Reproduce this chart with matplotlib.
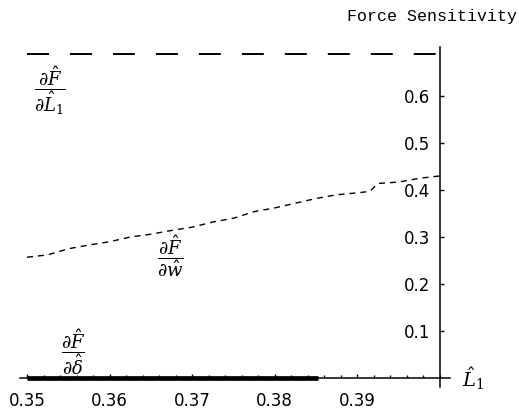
import matplotlib
matplotlib.use("Agg")
import matplotlib.pyplot as plt
from matplotlib.ticker import MultipleLocator

plt.rcParams['mathtext.fontset'] = 'dejavuserif'

# sensitivity of F with respect to L1 (constant)
L1_x = [0.35, 0.40]
L1_y = [0.689, 0.689]

# sensitivity with respect to w
w_x = [0.35, 0.3525, 0.355, 0.3575, 0.36, 0.3625, 0.365, 0.3675, 0.37, 0.3725,
       0.375, 0.3775, 0.38, 0.3825, 0.385, 0.3875, 0.39, 0.3915, 0.3925, 0.395,
       0.3975, 0.40]
w_y = [0.257, 0.262, 0.275, 0.283, 0.290, 0.300, 0.306, 0.314, 0.321, 0.332,
       0.340, 0.354, 0.362, 0.372, 0.382, 0.390, 0.394, 0.397, 0.414, 0.417,
       0.425, 0.430]

# sensitivity with respect to delta (zero)
d_x = [0.35, 0.3852]
d_y = [0.0, 0.0]

x_ticks = [0.35, 0.36, 0.37, 0.38, 0.39]
y_ticks = [0.1, 0.2, 0.3, 0.4, 0.5, 0.6]

W, H = 519, 411
fig = plt.figure(figsize=(W / 100, H / 100), dpi=100)

# axes box in pixels: x 20..450, y 47..387
ax = fig.add_axes([20 / W, (H - 387) / H, 430 / W, 340 / H])
ax.set_xlim(0.34915, 0.40121)
ax.set_ylim(-0.0191, 0.7043)

ax.plot(L1_x, L1_y, color='black', lw=1.4, dashes=(11.3, 10.8))
ax.plot(w_x, w_y, color='black', lw=1.0, dashes=(4.3, 3.6))
ax.plot(d_x, d_y, color='black', lw=3.4, solid_capstyle='butt',
        clip_on=False, zorder=5)

for s in ['top', 'right']:
    ax.spines[s].set_visible(False)
ax.spines['left'].set_position(('data', 0.40))
ax.spines['bottom'].set_position(('data', 0.0))
ax.spines['left'].set_linewidth(1.1)
ax.spines['bottom'].set_linewidth(1.1)

ax.set_xticks(x_ticks)
ax.set_xticklabels([f"{v:.2f}" for v in x_ticks])
ax.xaxis.set_minor_locator(MultipleLocator(0.002))
ax.set_yticks(y_ticks)
ax.set_yticklabels([f"{v:.1f}" for v in y_ticks])

ax.tick_params(axis='x', which='major', direction='in', length=3, width=1,
               pad=10, labelsize=12)
ax.tick_params(axis='x', which='minor', direction='in', length=2.5, width=1)
ax.tick_params(axis='y', which='major', direction='in', length=3, width=1,
               pad=7, labelsize=12)

ax.text(0.3528, 0.611, r'$\dfrac{\partial \hat{F}}{\partial \hat{L}_1}$',
        fontsize=13, ha='center', va='center')
ax.text(0.3673, 0.259, r'$\dfrac{\partial \hat{F}}{\partial \hat{w}}$',
        fontsize=13, ha='center', va='center')
ax.text(0.3556, 0.055, r'$\dfrac{\partial \hat{F}}{\partial \hat{\delta}}$',
        fontsize=13, ha='center', va='center')

fig.text(517 / W, 1 - 17 / H, 'Force Sensitivity', family='Liberation Mono',
         fontsize=12, ha='right', va='center')
fig.text(462 / W, 1 - 379 / H, r'$\hat{L}_1$', fontsize=14,
         ha='left', va='center')

fig.savefig('out.png', dpi=100)
